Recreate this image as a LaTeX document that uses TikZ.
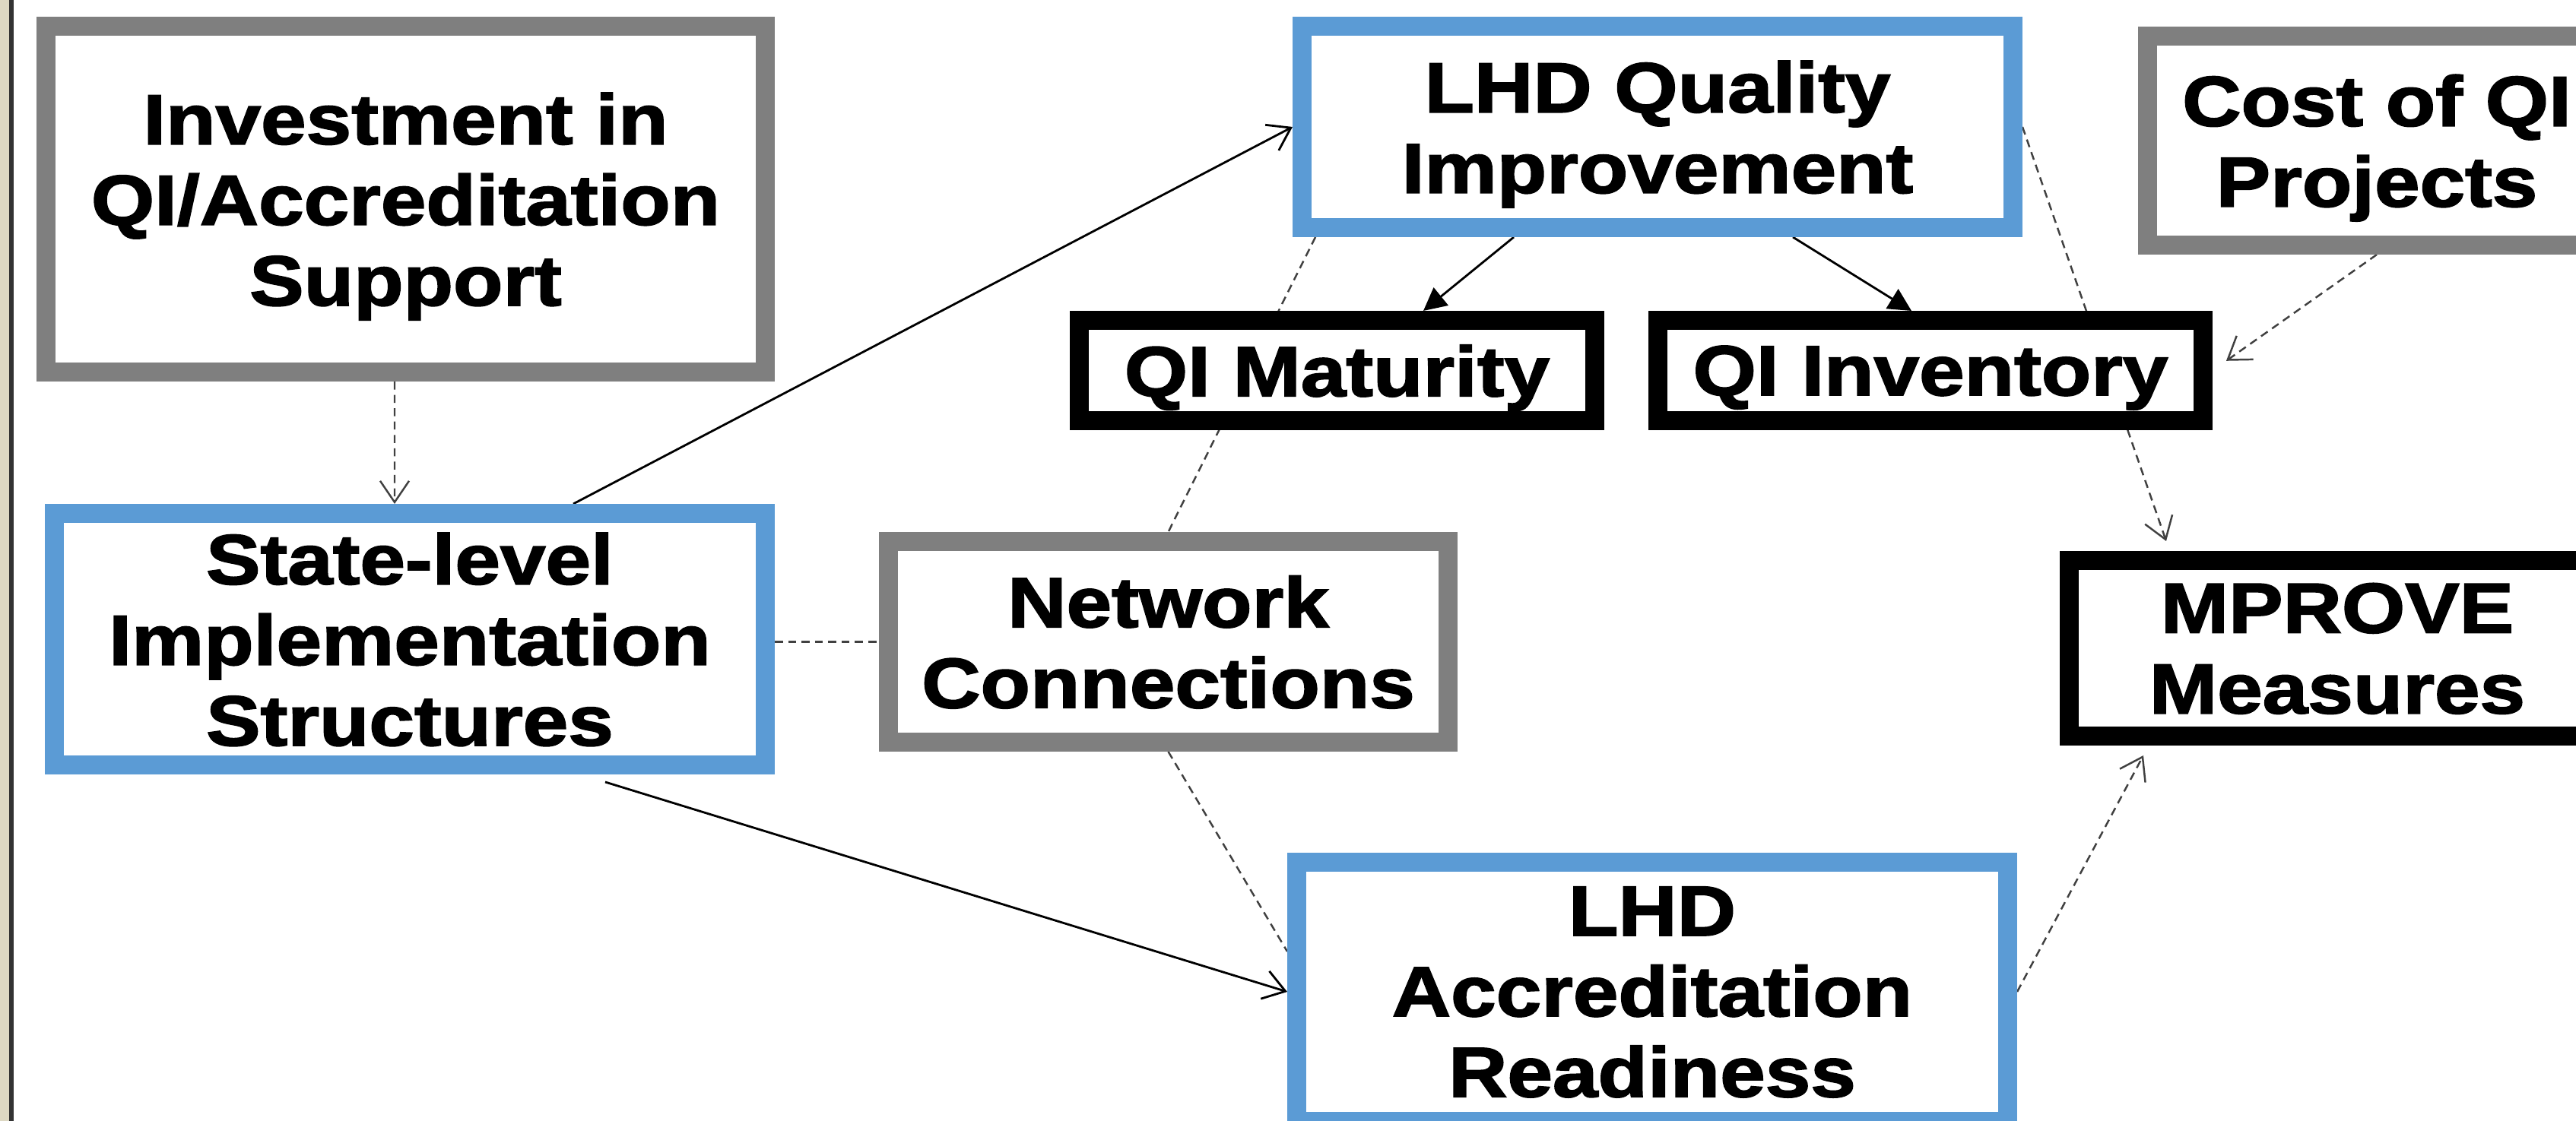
\documentclass[tikz,border=0pt]{standalone}
\usepackage{fontspec}
\newfontfamily\boxfont{Liberation Sans Bold}[FakeStretch=1.15,FakeBold=2]
\usetikzlibrary{arrows.meta,backgrounds}
\definecolor{boxblue}{RGB}{91,155,213}
\definecolor{boxgrey}{RGB}{127,127,127}
\definecolor{sidebeige}{RGB}{221,216,195}

\begin{document}
\begin{tikzpicture}[
		box/.style={draw, fill=white, line width=2.5mm, inner sep=0pt, align=center, text depth=0pt,
			font=\boxfont\fontsize{26.5}{30.2}\selectfont},
		bluebox/.style={box, draw=boxblue},
		greybox/.style={box, draw=boxgrey},
		blackbox/.style={box, draw=black},
		link/.style={line width=0.8pt, black},
		dlink/.style={line width=0.7pt, black!75, dash pattern=on 3pt off 2pt},
		opentip/.style={-{Straight Barb[length=2.8mm,width=3.8mm]}},
		filltip/.style={-{Triangle[length=3mm,width=3mm]}}
	]
				\useasboundingbox (0,0) rectangle (33.88,14.75);
				
				\node[greybox, minimum width=9.46cm, minimum height=4.55cm] (invest) at (5.335,12.13) {Investment in\\QI/Accreditation\\Support};
				\node[bluebox, minimum width=9.35cm, minimum height=3.31cm] (state) at (5.39,6.34) {State-level\\Implementation\\Structures};
				\node[bluebox, minimum width=9.35cm, minimum height=2.65cm] (lhdqi) at (21.80,13.08) {LHD Quality\\Improvement};
				\node[greybox, minimum width=6.03cm, minimum height=2.75cm] (cost) at (31.26,12.90) {Cost of QI\\Projects};
				\node[blackbox, minimum width=6.78cm, minimum height=1.32cm] (qimat) at (17.585,9.875) {QI Maturity};
				\node[blackbox, minimum width=7.17cm, minimum height=1.32cm] (qiinv) at (25.39,9.875) {QI Inventory};
				\node[greybox, minimum width=7.36cm, minimum height=2.64cm] (netw) at (15.365,6.305) {Network\\Connections};
				\node[blackbox, minimum width=7.05cm, minimum height=2.31cm] (mprove) at (30.74,6.22) {MPROVE\\Measures};
				\node[bluebox, minimum width=9.35cm, minimum height=3.41cm] (lhdacc) at (21.73,1.70) {LHD\\Accreditation\\Readiness};
				
				\begin{pgfonlayer}{background}
				\fill[white] (0,0) rectangle (33.88,14.75);
				\fill[sidebeige] (0,0) rectangle (0.14,14.75);
				\draw[line width=0.6mm, black!80] (0.15,0) -- (0.15,14.75);
				
				% solid links
				\draw[link, opentip] ([xshift=21.5mm]state.north) -- (lhdqi.west);
				\draw[link, opentip] ([xshift=25.7mm,yshift=-1mm]state.south) -- (lhdacc.west);
				\draw[link, filltip] ([xshift=-18.9mm]lhdqi.south) -- ([xshift=11.35mm]qimat.north);
				\draw[link, filltip] ([xshift=17.8mm]lhdqi.south) -- ([xshift=-2.5mm]qiinv.north);
				
				% dashed links
				\draw[dlink, opentip] ([xshift=-1.45mm]invest.south) -- ([xshift=-2mm]state.north);
				\draw[dlink] (netw.west -| state.east) -- (netw.west);
				\draw[dlink] ([xshift=-45mm]lhdqi.south) -- (netw.north);
				\draw[dlink] (netw.south) -- ([yshift=5.3mm]lhdacc.west);
				\draw[dlink, opentip] (lhdqi.east) -- ([xshift=-22.5mm,yshift=1.3mm]mprove.north);
				\draw[dlink, opentip, shorten >=2.2mm] (cost.south) -- (qiinv.east);
				\draw[dlink, opentip] (lhdacc.east) -- ([xshift=-25.5mm,yshift=-1.3mm]mprove.south);
				\end{pgfonlayer}
			\end{tikzpicture}
\end{document}
